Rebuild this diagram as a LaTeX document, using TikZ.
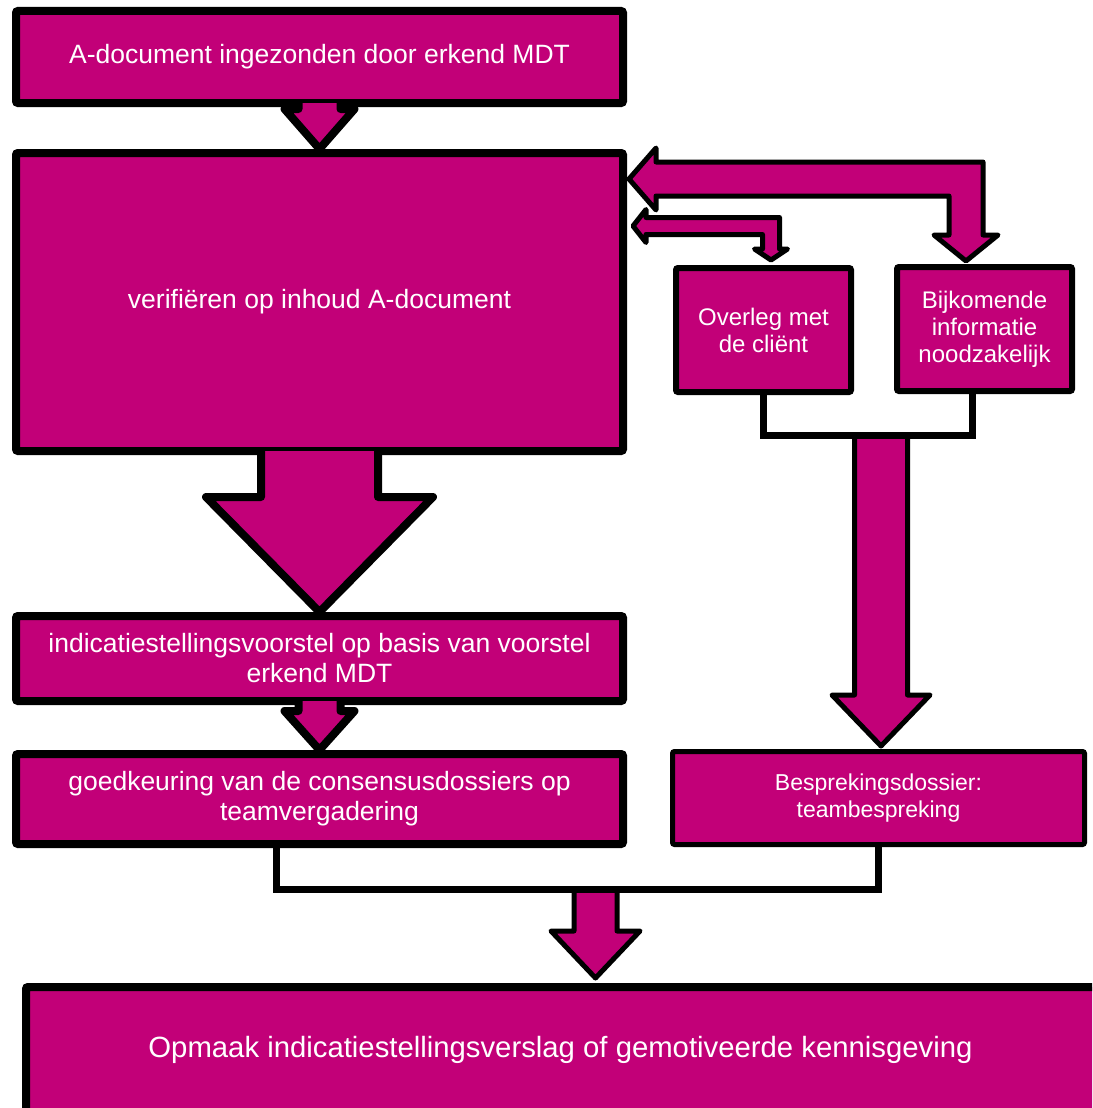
\documentclass[tikz,border=0pt]{standalone}
\usepackage{fontspec}
\setmainfont{Liberation Sans}
\usetikzlibrary{calc}
\definecolor{flowmag}{RGB}{194,0,120}

\tikzset{
  box/.style={rectangle, draw=black, fill=flowmag, text=white, align=center,
    inner sep=0pt, rounded corners=2pt, line width=8pt},
  thinbox/.style={box, line width=6pt},
  bigtext/.style={font=\fontsize{26.5}{30}\selectfont},
  smalltext/.style={font=\fontsize{24}{27}\selectfont},
  wideblock/.style={line width=8pt, line join=round},
  slimblock/.style={line width=5pt, line join=round},
  bracket/.style={line width=7pt},
}

% vertical block arrow: #1 style, #2 start point, #3 tip,
% #4 shaft half width, #5 head half width, #6 head length, #7 overlap into source
\newcommand\blockdown[7]{%
  \fill[flowmag] let \p1=#2, \p2=#3 in
    (\x2-#4,\y1+#7) -- (\x2-#4,\y2+#6) -- (\x2-#5,\y2+#6) -- (\x2,\y2)
    -- (\x2+#5,\y2+#6) -- (\x2+#4,\y2+#6) -- (\x2+#4,\y1+#7) -- cycle;
  \draw[#1] let \p1=#2, \p2=#3 in
    (\x2-#4,\y1+#7) -- (\x2-#4,\y2+#6) -- (\x2-#5,\y2+#6) -- (\x2,\y2)
    -- (\x2+#5,\y2+#6) -- (\x2+#4,\y2+#6) -- (\x2+#4,\y1+#7);
}

% bent two-headed block arrow: #1 left tip, #2 corner, #3 lower tip,
% #4 band half width, #5 left head half width, #6 left head length,
% #7 lower head half width, #8 lower head length
\newcommand\bentblock[8]{%
  \filldraw[fill=flowmag, draw=black, slimblock] let \p1=#1, \p2=#2, \p3=#3 in
    (\x1,\y1) -- (\x1+#6,\y1+#5) -- (\x1+#6,\y1+#4) -- (\x2+#4,\y1+#4)
    -- (\x2+#4,\y3+#8) -- (\x2+#7,\y3+#8) -- (\x2,\y3) -- (\x2-#7,\y3+#8)
    -- (\x2-#4,\y3+#8) -- (\x2-#4,\y1-#4) -- (\x1+#6,\y1-#4)
    -- (\x1+#6,\y1-#5) -- cycle;
}

\begin{document}
\begin{tikzpicture}[x=1pt,y=-1pt]
\useasboundingbox (0,0) rectangle (1092,1108);
\clip (0,0) rectangle (1092,1108);

% left column
\node[box, bigtext, minimum width=607, minimum height=92] (b1) at (319.5,57)
  {A-document ingezonden door erkend MDT};
\node[box, bigtext, minimum width=607, minimum height=298] (b2) at (319.5,302)
  {verifiëren op inhoud A-document};
\node[box, bigtext, minimum width=607, minimum height=85] (b3) at (319.5,658.5)
  {indicatiestellingsvoorstel op basis van voorstel\\erkend MDT};
\node[box, bigtext, minimum width=607, minimum height=90] (b4) at (319.5,799)
  {goedkeuring van de consensusdossiers op\\teamvergadering};

% right column
\node[thinbox, smalltext, minimum width=175, minimum height=124] (over) at (763.5,330)
  {Overleg met\\de cliënt};
\node[thinbox, smalltext, minimum width=175, minimum height=124] (bijk) at (984.5,329)
  {Bijkomende\\informatie\\noodzakelijk};
\node[box, line width=5pt, font=\fontsize{23}{27}\selectfont,
  minimum width=412, minimum height=93] (besp) at (878.5,798)
  {Besprekingsdossier:\\teambespreking};

% final box, running past the right and bottom page edges
\node[box, font=\fontsize{29.3}{34}\selectfont, minimum width=1078, minimum height=126]
  (opm) at (565,1050)
  {\hspace*{-9pt}Opmaak indicatiestellingsverslag of gemotiveerde kennisgeving};

% junctions of the brackets and lanes of the bent arrows
\coordinate (j1) at (881,435);
\coordinate (j2) at (595.5,889.5);
\coordinate (k1) at (966,179);
\coordinate (k2) at (771,226);

% arrows down the left column
\blockdown{wideblock}{(b1.south)}{(b2.north)}{21pt}{35pt}{40pt}{4pt}
\blockdown{wideblock}{(b2.south)}{(b3.north)}{58.5pt}{113.5pt}{115pt}{4pt}
\blockdown{wideblock}{(b3.south)}{(b4.north)}{21pt}{35pt}{39pt}{4pt}

% merge of the two right-hand boxes into the discussion file
\blockdown{slimblock}{(j1)}{($(j1 |- besp.north)+(0,-3)$)}{26.5pt}{49pt}{51pt}{0pt}
\draw[bracket] (over.south) |- (j1) -| ($(bijk.south)+(-12.5,0)$);

% merge of both paths into the final box
\blockdown{slimblock}{(j2)}{($(j2 |- opm.north)+(0,-5)$)}{21.5pt}{44.5pt}{47pt}{0pt}
\draw[bracket] ($(b4.south)+(-43,0)$) |- (j2) -| (besp.south);

% two-way links between verification and the right-hand boxes
\bentblock{($(b2.east |- k1)+(2,0)$)}{(k1)}{($(bijk.north -| k1)+(0,-3)$)}{17pt}{31pt}{27pt}{32pt}{26pt}
\bentblock{($(b2.east |- k2)+(6,0)$)}{(k2)}{($(over.north -| k2)+(0,-5)$)}{8.5pt}{16.5pt}{13pt}{16.5pt}{11pt}
\end{tikzpicture}
\end{document}
